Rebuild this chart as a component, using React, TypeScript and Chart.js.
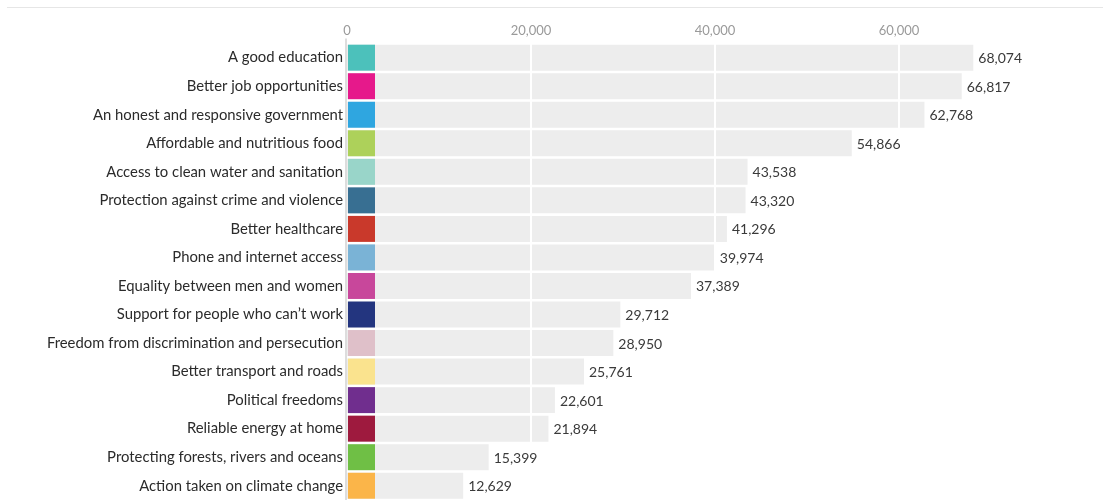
import React, { useEffect, useRef } from "react";
import { Chart, registerables } from "chart.js";

Chart.register(...registerables);

const categories = [
  "A good education",
  "Better job opportunities",
  "An honest and responsive government",
  "Affordable and nutritious food",
  "Access to clean water and sanitation",
  "Protection against crime and violence",
  "Better healthcare",
  "Phone and internet access",
  "Equality between men and women",
  "Support for people who can\u2019t work",
  "Freedom from discrimination and persecution",
  "Better transport and roads",
  "Political freedoms",
  "Reliable energy at home",
  "Protecting forests, rivers and oceans",
  "Action taken on climate change",
];

const values = [
  68074, 66817, 62768, 54866, 43538, 43320, 41296, 39974, 37389, 29712, 28950,
  25761, 22601, 21894, 15399, 12629,
];

const swatchColors = [
  "#4cc1bb",
  "#e6198b",
  "#2fa6e0",
  "#add15a",
  "#99d5c9",
  "#386f92",
  "#c9392b",
  "#7ab3d6",
  "#c8479b",
  "#23357f",
  "#dfc0c9",
  "#fae38e",
  "#702e8e",
  "#9e1a3e",
  "#6fbf45",
  "#fbb549",
];

const tickValues = [0, 20000, 40000, 60000];
const axisMax = 80000;

const FONT = "Lato, 'Open Sans', sans-serif";

export default function App() {
  const ref = useRef<HTMLCanvasElement>(null);

  useEffect(() => {
    if (!ref.current) return;

    const overlay = {
      id: "overlay",
      beforeDraw(chart: any) {
        const ctx = chart.ctx;
        ctx.save();
        ctx.strokeStyle = "#e6e6e6";
        ctx.lineWidth = 1;
        ctx.beginPath();
        ctx.moveTo(7, 7.5);
        ctx.lineTo(chart.width, 7.5);
        ctx.stroke();
        ctx.restore();
      },
      afterDatasetsDraw(chart: any) {
        const ctx = chart.ctx;
        const xs = chart.scales.x;
        const area = chart.chartArea;
        ctx.save();
        // white gridlines over the bars
        ctx.strokeStyle = "#ffffff";
        ctx.lineWidth = 2;
        tickValues.slice(1).forEach((v) => {
          const px = Math.round(xs.getPixelForValue(v));
          ctx.beginPath();
          ctx.moveTo(px, area.top);
          ctx.lineTo(px, area.bottom);
          ctx.stroke();
        });
        // zero axis line
        const x0 = xs.getPixelForValue(0);
        ctx.strokeStyle = "#dddddd";
        ctx.lineWidth = 2;
        ctx.beginPath();
        ctx.moveTo(x0 - 1, area.top - 5);
        ctx.lineTo(x0 - 1, area.bottom);
        ctx.stroke();
        // swatches and value labels
        const meta = chart.getDatasetMeta(0);
        ctx.font = `14px ${FONT}`;
        ctx.textAlign = "left";
        ctx.textBaseline = "middle";
        meta.data.forEach((bar: any, i: number) => {
          const p = bar.getProps(["x", "y", "height"], true);
          ctx.fillStyle = swatchColors[i];
          ctx.fillRect(x0 + 1, p.y - p.height / 2, 27, p.height);
          ctx.fillStyle = "#3a3a3a";
          ctx.fillText(values[i].toLocaleString("en-US"), p.x + 5, p.y + 1);
        });
        ctx.restore();
      },
    };

    const chart = new Chart(ref.current, {
      type: "bar",
      data: {
        labels: categories,
        datasets: [
          {
            data: values,
            backgroundColor: "#ededed",
            borderWidth: 0,
            barPercentage: 0.91,
            categoryPercentage: 1,
          },
        ],
      },
      options: {
        indexAxis: "y",
        animation: false,
        responsive: false,
        layout: { padding: { left: 0, right: 20, top: 1, bottom: 0 } },
        plugins: {
          legend: { display: false },
          tooltip: { enabled: false },
        },
        scales: {
          x: {
            position: "top",
            min: 0,
            max: axisMax,
            grid: { display: false, drawTicks: false },
            border: { display: false },
            afterBuildTicks: (s: any) => {
              s.ticks = tickValues.map((v) => ({ value: v }));
            },
            afterFit: (s: any) => {
              s.height = 42.4;
              s.paddingLeft = 0;
              s.paddingRight = 0;
            },
            ticks: {
              padding: 5,
              color: "#9a9a9a",
              font: { family: FONT, size: 13 },
              callback: (v: any) => Number(v).toLocaleString("en-US"),
            },
          },
          y: {
            grid: { display: false, drawTicks: false },
            border: { display: false },
            afterFit: (s: any) => {
              s.width = 347;
              s.paddingTop = 0;
              s.paddingBottom = 0;
            },
            ticks: {
              padding: 4,
              color: "#2b2b2b",
              font: { family: FONT, size: 14.85 },
              autoSkip: false,
            },
          },
        },
      },
      plugins: [overlay],
    });

    return () => chart.destroy();
  }, []);

  return (
    <div style={{ position: "absolute", left: 0, top: 0, width: 1103, height: 500, background: "#fff" }}>
      <canvas ref={ref} width={1103} height={500} style={{ display: "block" }} />
    </div>
  );
}
